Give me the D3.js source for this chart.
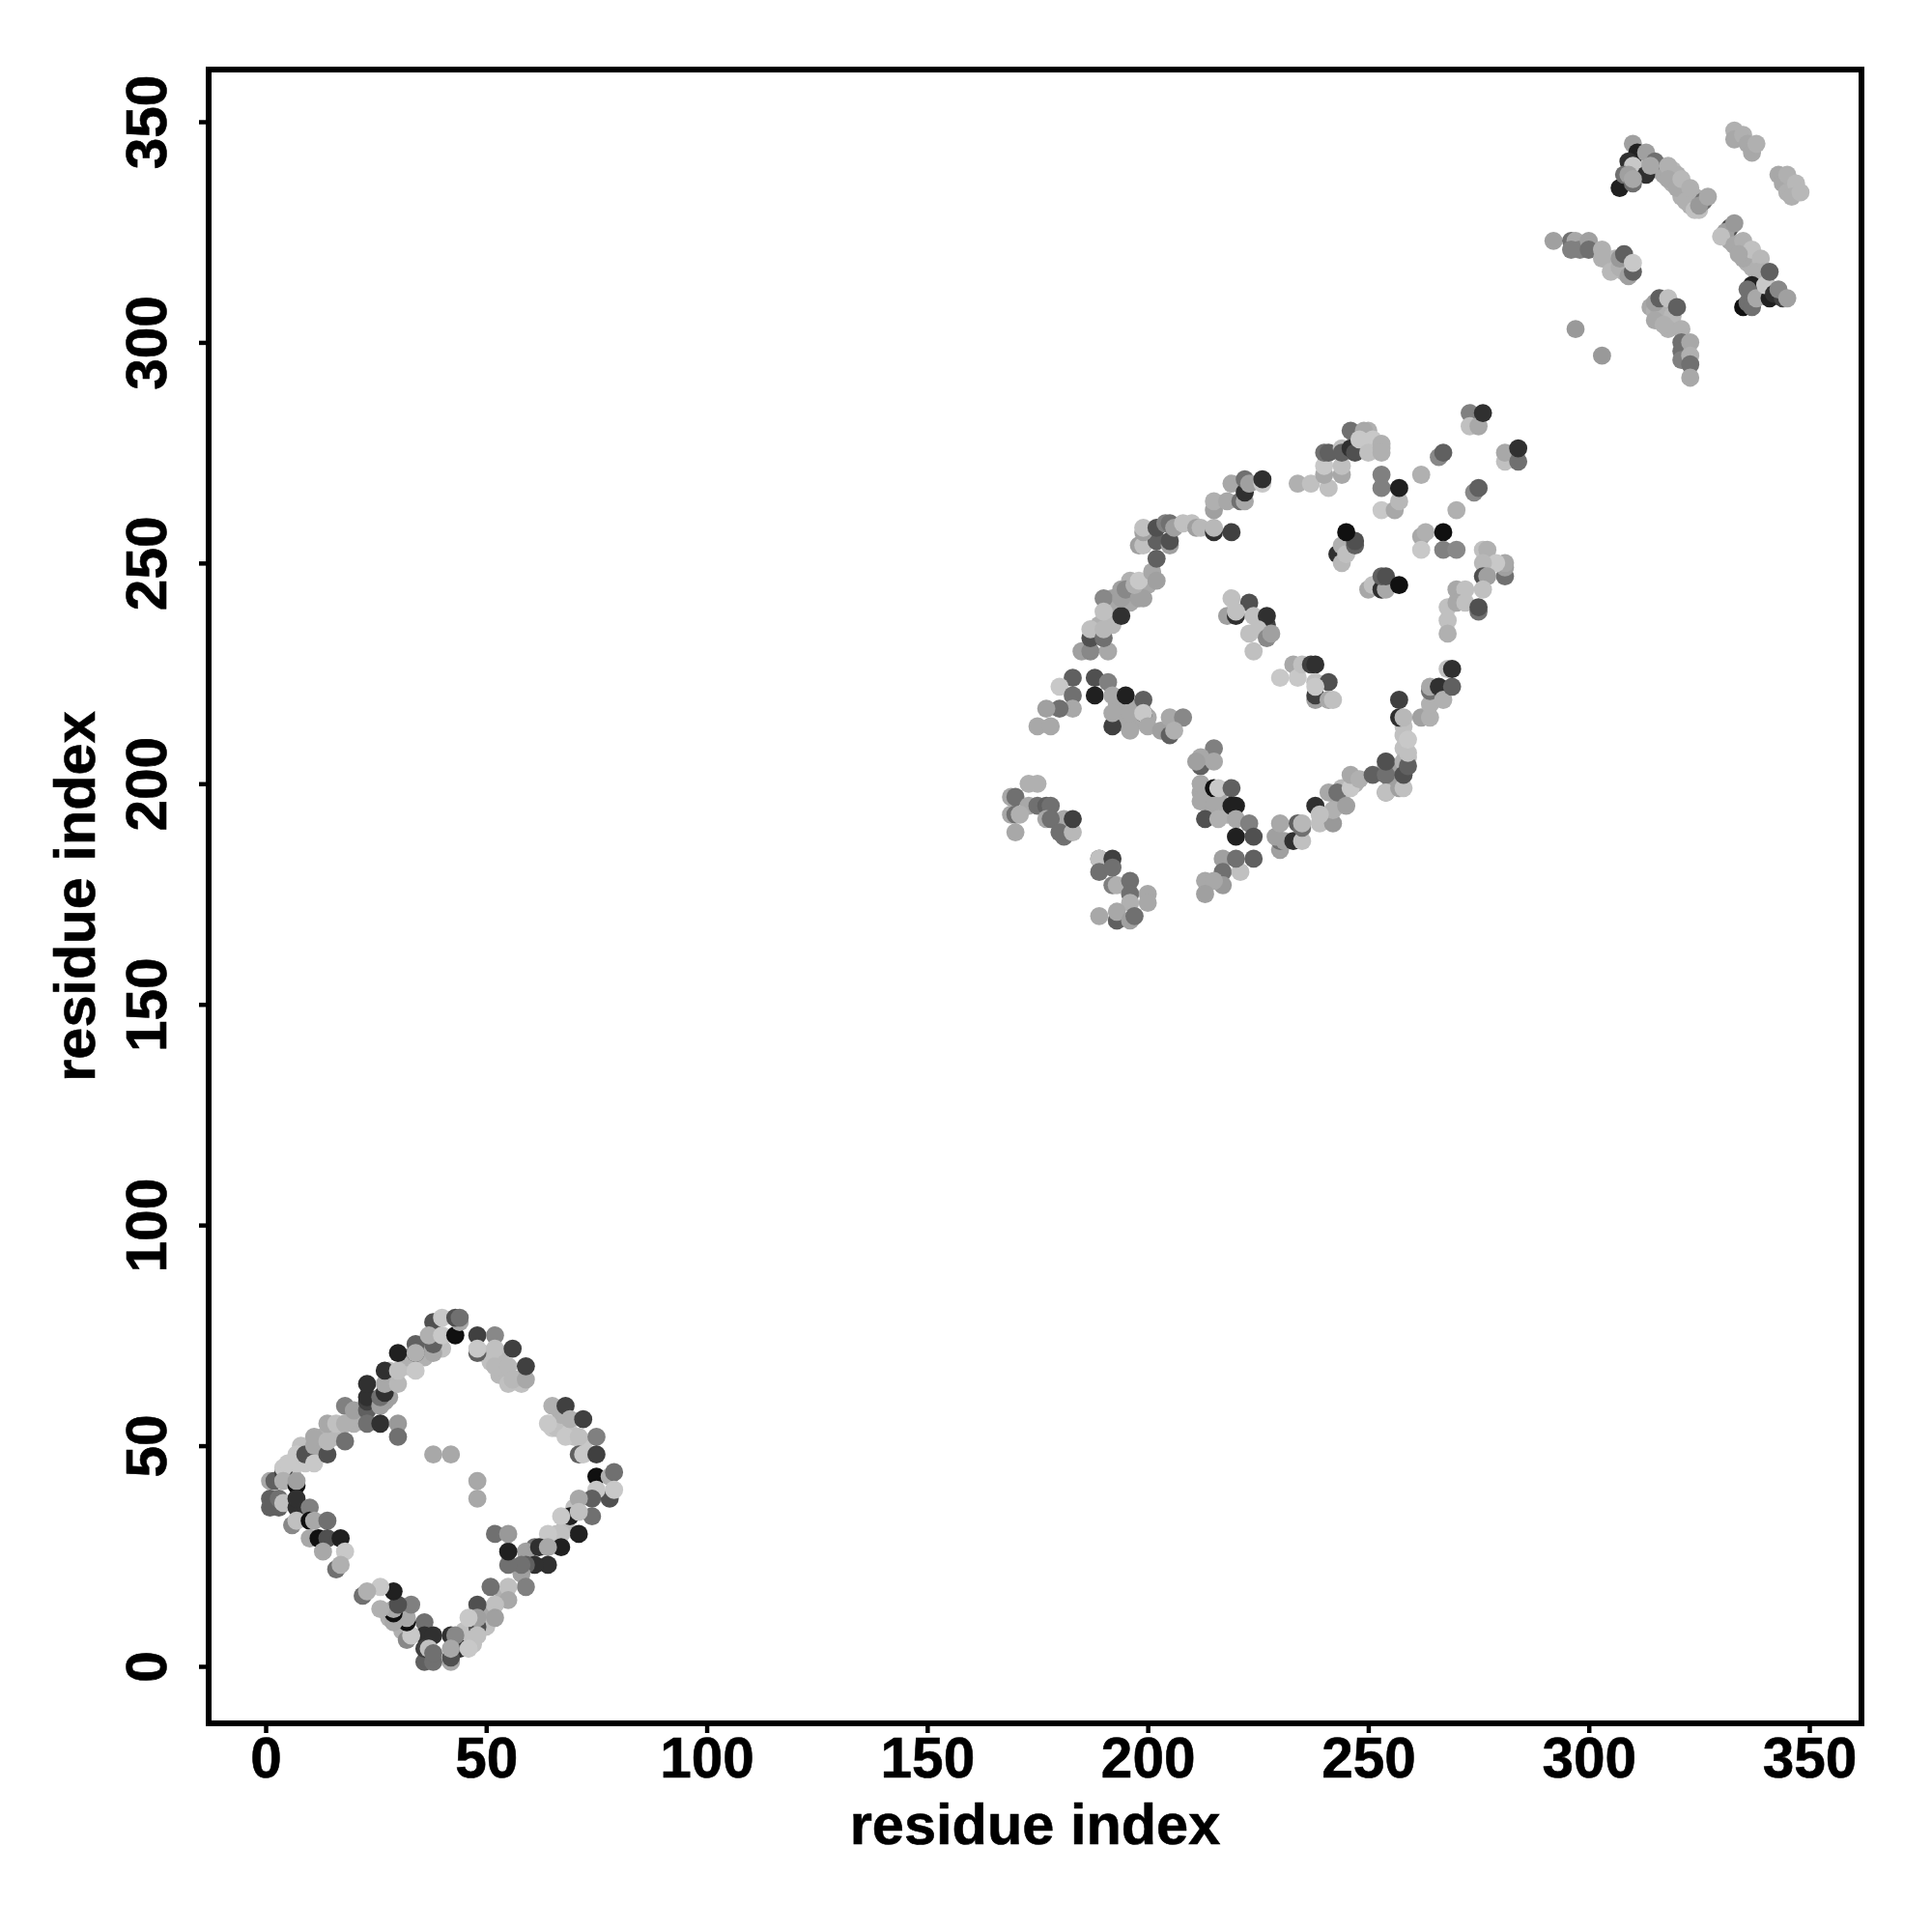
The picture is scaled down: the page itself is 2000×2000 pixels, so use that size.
<!DOCTYPE html>
<html><head><meta charset="utf-8">
<script src="https://cdn.jsdelivr.net/npm/d3@7"></script>
<style>html,body{margin:0;background:#fff}svg{display:block}</style>
</head><body><svg id="c" width="2000" height="2000"></svg>
<script>
const axisTicks = [0,50,100,150,200,250,300,350];
const xTitle = "residue index";
const yTitle = "residue index";
// [residue i, residue j, grey level]
const underlyingContacts = [
[66,55,176],[65,54,200],[66,54,192],[67,57,176],[69,53,200],[70,52,192],[72,50,200],[27,60,160],[28,61,160],[29,65,184],[28,67,192],[32,68,192],[32,70,176],[36,72,176],[36,70,176],[36,73,168],[40,72,192],[53,70,184],[54,67,192],[53,66,184],[55,66,184],[57,65,184],[58,64,192],[49,71,192],[51,69,192],[70,36,192],[68,32,184],[66,30,192],[47,8,192],[46,6,192],[47,5,192],[44,6,192],[45,8,192],[50,12,168],[50,9,192],[47,11,200],[54,16,176],[28,11,176],[31,12,176],[31,8,176],[8,50,192],[9,46,200],[6,44,192],[12,48,176],[13,52,176],[16,52,184],[20,55,176],
[195,215,168],[197,214,168],[194,214,168],[198,215,168],[200,215,168],[193,218,168],[197,217,168],[212,198,168],[214,197,168],[214,193,168],[217,195,168],[218,193,176],[216,197,168],[254,204,160],[256,200,168],[255,199,160],[257,201,160],[256,203,160],[244,196,176],[243,195,168],[241,193,176],[247,200,176],[244,199,184],[240,192,168],[258,208,192],[258,213,192],[259,206,192],
[192,242,160],[193,240,168],[195,242,168],[196,243,168],[197,243,176],[196,241,168],[198,244,176],[200,245,168],[194,244,160],[196,246,176],[188,234,160],[189,236,176],[192,236,184],
[316,340,176],[317,338,168],[319,336,176],[319,339,184],[320,338,176],[322,335,176],[321,333,176],[324,333,176],[323,331,176],[325,330,192],[304,319,176],[305,318,184],[306,317,176],[308,316,176],[306,319,184],[309,317,184],[314,308,168],[315,307,176],[316,307,168],[316,305,176],[317,307,176],[318,306,176],[319,304,176],[319,306,184],[318,303,176],[332,323,168],[334,321,176],[336,320,176],[336,318,176],[338,319,176],[337,317,176],[339,316,184],[340,314,176],[339,312,176],[312,339,176],[316,339,168]
];
const diamondContacts = [
[1,42,168],[2,42,96],[4,44,64],[4,45,200],[4,42,176],[7,41,16],[7,42,160],[5,46,200],[7,46,200],[7,48,200],[9,48,80],[11,46,200],[11,50,168],[11,52,168],[14,48,80],[14,51,184],[14,55,168],[16,55,192],[18,59,128],[18,55,176],[18,51,112],[20,58,160],
[23,58,96],[23,55,112],[23,60,64],[23,61,48],[23,64,48],[26,59,160],[26,55,48],[26,61,112],[27,62,48],[27,64,168],[27,67,48],[30,55,153],[30,52,112],[30,64,184],[30,67,192],[30,71,32],[34,71,48],[34,67,200],[34,73,96],[34,71,176],[38,71,168],[38,73,96],[38,78,80],[37,75,176],[40,79,200],[40,75,200],[43,75,16],[44,78,168],[43,79,80],[44,79,112],
[48,71,96],[48,75,64],[48,72,200],[52,75,136],[52,68,184],[52,72,192],[55,68,184],[56,72,64],[55,64,192],[56,65,184],[59,65,168],[59,68,64],
[64,55,200],[65,59,176],[68,59,64],[69,56,176],[72,56,64],[68,52,200],[71,52,192],[75,52,128],[71,48,96],[72,48,200],[75,48,64],[75,43,16],[78,43,176],[79,44,112],[78,38,80],[75,40,200],[79,40,200],[74,38,96],[71,38,168],[74,34,112],[69,34,32],[67,34,200],[71,35,192],[71,30,32],[67,30,192],[64,30,200],[67,27,32],[61,27,112],[59,26,160],[62,27,48],[64,27,168],[64,23,48],[61,23,48],[59,23,96],[58,21,160],[58,23,112],[55,23,112],[55,26,32],[52,30,112],[55,30,153],
[59,18,128],[55,18,192],[51,18,112],[55,15,168],[52,14,192],[48,14,80],[48,9,80],[48,11,160],[52,11,160],[46,11,200],[48,7,192],[44,4,48],[46,4,200],[42,7,48],[43,7,136],[42,1,168],[42,2,80],[42,4,168],
[36,10,112],[36,7,48],[38,7,48],[36,1,96],[36,4,64],[38,1,112],[37,4,192],[38,3,112],[32,6,136],[33,7,200],[32,10,16],[32,11,168],[33,14,128],
[29,10,168],[29,12,16],[29,13,168],[30,14,80],[29,17,32],[26,13,176],[26,18,200],[22,16,112],[23,17,176],
[1,38,96],[1,36,96],[3,36,96],[3,38,112],[4,37,192],[7,36,48],[7,38,48],[10,36,128],[6,32,136],[7,33,192],[10,33,16],[11,33,168],[14,33,112],[10,29,168],[12,29,16],[14,29,80],[13,26,168],[17,29,32],[18,26,200],[16,22,112],[17,23,176],
[38,48,168],[42,48,168],[48,42,168],[48,38,168]
];
const middleContacts = [
[183,224,96],[180,222,200],[183,220,112],[183,217,168],[180,217,112],[177,217,160],[175,213,168],[178,213,168],
[188,224,80],[191,223,128],[188,220,32],[192,220,168],[195,220,32],[199,216,16],[199,219,96],[192,213,64],[192,216,168],[196,216,168],[199,216,200],[196,212,168],[200,213,168],[203,212,160],[205,211,96],[205,215,168],[208,215,136],[206,212,176],
[215,208,128],[212,204,96],[212,206,168],[215,205,168],[211,205,160],[212,200,168],[215,199,16],[216,199,200],[219,199,96],[212,196,168],[215,195,168],[219,195,32],[220,195,32],[213,192,80],[216,192,176],[220,192,168],[223,191,128],[220,188,32],[224,188,80],
[217,183,160],[217,180,112],[217,177,153],[213,178,168],[215,178,168],[213,175,160],[221,180,192],[220,183,112],[224,183,96],
[189,183,112],[189,183,192],[189,180,112],[192,183,64],[192,181,112],[192,177,128],[193,177,176],[196,178,112],[196,175,112],[200,175,168],[200,173,168],[196,173,176],[189,170,168],[193,169,168],[193,169,96],[193,171,168],[196,169,160],[197,170,112],
[173,200,176],[175,200,176],[169,197,168],[170,197,112],[173,195,168],[175,195,112],[177,195,96],[178,195,112],[169,193,168],[170,193,112],[171,193,176],[177,192,168],[181,192,168],[178,192,112],[181,188,112],[180,189,112],[183,189,184],[183,192,64],[170,189,168],
[230,185,160],[230,187,112],[229,188,160],[231,187,160],[233,187,48],[235,187,192],[230,191,168],[234,191,96],[235,190,112],[235,191,184],[239,191,192],[238,195,48],[242,191,153],[241,198,168],[242,194,176],[239,193,192],[243,198,112],[245,195,160],[246,199,200],[246,202,168],[248,201,176],
[251,202,96],[254,205,153],[254,202,112],[254,198,136],[254,198,192],[254,205,80],[258,205,176],[257,199,160],[258,199,192],[258,202,80],[259,204,96],[259,207,192],[258,211,192],[259,210,200],[257,215,48],[258,215,184],[257,219,64],
[262,215,160],[264,215,176],[264,218,176],[264,221,112],[264,222,168],[266,222,48],[267,219,176],[269,222,96],[268,226,192],[269,226,48],
[230,224,200],[233,227,168],[234,224,200],[235,227,192],[238,219,160],[237,227,64],[238,227,48],[238,223,192],[241,223,80],[238,220,64],[238,222,200],[241,219,168],[242,219,192]
];
const upperArcContacts = [
[185,230,160],[187,230,136],[187,233,80],[191,230,168],[187,235,192],[190,233,112],[190,235,184],[190,242,136],[190,239,192],[194,238,48],[194,242,160],[195,244,136],[198,242,160],[199,242,160],[197,245,176],[198,246,200],[201,248,168],[202,246,160],[202,251,96],
[198,254,160],[199,254,192],[202,255,96],[205,254,160],[205,255,80],[199,257,160],[199,258,192],[202,258,80],[204,259,128],[205,259,112],[206,258,160],[208,259,192],[210,259,192],[211,258,160],[212,258,184],[215,257,48],[215,258,184],[219,257,64],
[215,262,160],[215,264,176],[218,264,168],[221,264,112],[222,264,168],[219,268,168],[222,266,48],[222,269,112],[223,268,160],[226,268,200],[226,269,48],
[218,238,160],[219,242,192],[223,241,80],[220,238,48],[220,239,192],[224,238,192],[227,236,64],[227,238,48],[223,234,192],[225,235,192],[227,233,136],[228,234,160],[224,230,192],
[234,268,176],[237,268,192],[241,267,192],[240,270,168],[244,270,168],[240,272,200],[244,272,192],[240,275,112],[241,275,96],[244,276,192],[244,275,96],[246,280,112],[246,276,48],[247,275,80],[250,280,176],[249,280,168],[248,278,200],[251,278,200],[250,275,192],[253,276,176],[253,277,176],[253,275,176],
[253,270,128],[253,267,128],[253,262,200],[256,262,168],[257,264,184],[257,267,32],[262,270,176],[266,274,136],[267,275,96],
[273,284,128],[273,281,192],[275,281,168],[276,284,48],[281,273,192],[281,275,168],[284,273,112],[284,276,48],
[270,262,176],[274,266,136],[275,267,96],[262,256,168],[263,257,176],[262,253,200],[267,257,16],[267,253,128],[270,253,136],
[243,252,48],[244,254,176],[244,250,184],[245,252,192],[247,254,96],[247,255,80],[245,257,16],
[250,244,168],[251,245,192],[253,244,48],[254,244,168],[253,247,96],[254,247,80],[257,245,16],
[276,253,192],[277,253,176],[281,247,112],[281,249,160],[281,250,168],[279,250,200],[276,250,184],[276,247,80],[277,247,160],[276,244,192],[270,244,168],[272,244,192],[268,240,192],[270,241,168],[272,241,192],[275,239,112],[275,240,80],[268,237,192],[268,234,176]
];
const cornerContacts = [
[297,303,153],[303,297,153],
[292,323,160],[296,323,112],[297,323,168],[296,321,128],[298,321,128],[300,323,160],[300,321,112],[303,321,176],[303,319,176],[305,316,184],[307,317,176],[307,319,153],[308,320,96],[309,315,160],[310,316,96],[310,318,200],
[315,309,160],[316,310,96],[318,310,192],[315,305,168],[317,304,176],[321,303,176],[320,308,96],[321,300,112],[321,298,112],[321,296,128],[323,300,168],[323,297,176],[323,295,112],[323,292,168],
[310,345,160],[311,343,32],[309,341,48],[310,340,200],[313,343,160],[315,341,112],[313,338,48],[314,340,168],[307,335,32],[308,338,112],[309,338,160],[310,336,112],[310,337,168],
[318,340,176],[318,337,168],[320,335,168],[321,337,184],[322,332,176],[323,335,176],[324,330,192],[326,332,112],[325,331,153],[327,333,168],
[333,348,176],[333,346,168],[335,347,176],[336,345,168],[337,343,168],[338,345,176],
[343,338,168],[344,336,168],[345,338,176],[345,334,176],[347,336,184],[346,333,176],[348,334,184],
[332,326,80],[331,325,160],[333,327,153],[330,324,192],[333,322,168],[335,323,176],[335,319,168],[337,321,192],[334,320,168],[339,319,184],[338,316,176],[340,316,176],[337,313,32],[335,308,16],[336,312,112],[336,309,112],[337,308,112],[338,310,168],[341,310,32],[340,313,200],[341,316,96],[342,311,48],[344,310,64],[343,312,136],[345,310,160]
];

const svg = d3.select("#c");
const x = d3.scaleLinear().domain([0,350]).range([275,1873]);
const y = d3.scaleLinear().domain([0,350]).range([1725,126]);
const frame = {l:216,r:1927,t:72,b:1784};
const font = "'Liberation Sans', Arial, sans-serif";

const points = [...underlyingContacts, ...diamondContacts, ...middleContacts, ...upperArcContacts, ...cornerContacts];
svg.append("g").selectAll("circle").data(points).join("circle")
  .attr("cx",d=>x(d[0])).attr("cy",d=>y(d[1])).attr("r",9.4)
  .attr("fill",d=>d3.rgb(d[2],d[2],d[2]));

svg.append("rect").attr("x",frame.l).attr("y",frame.t)
  .attr("width",frame.r-frame.l).attr("height",frame.b-frame.t)
  .attr("fill","none").attr("stroke","#000").attr("stroke-width",6);

const gx = svg.append("g").attr("transform",`translate(0,${frame.b})`)
  .call(d3.axisBottom(x).tickValues(axisTicks).tickSize(10).tickPadding(0).tickFormat(d3.format("d")));
const gy = svg.append("g").attr("transform",`translate(${frame.l},0)`)
  .call(d3.axisLeft(y).tickValues(axisTicks).tickSize(10).tickPadding(0).tickFormat(d3.format("d")));
[gx,gy].forEach(g=>{
  g.select(".domain").remove();
  g.selectAll("line").attr("stroke","#000").attr("stroke-width",4.5);
  g.selectAll("text").attr("fill","#000").attr("stroke","#000").attr("stroke-width",0.6)
   .style("font-family",font).style("font-weight","bold").style("font-size","58.5px");
});
gx.selectAll("text").attr("dy",null).attr("y",56).attr("text-anchor","middle");
gy.selectAll("text").attr("dy",null).attr("x",null)
  .attr("transform",`translate(-44,0) rotate(-90)`)
  .attr("text-anchor","middle");

svg.append("text").text(xTitle).attr("x",(frame.l+frame.r)/2).attr("y",1909).attr("stroke","#000").attr("stroke-width",0.6)
  .attr("text-anchor","middle").style("font-family",font).style("font-weight","bold").style("font-size","59.5px");
svg.append("text").text(yTitle).attr("transform",`translate(98,${(frame.t+frame.b)/2}) rotate(-90)`).attr("stroke","#000").attr("stroke-width",0.6)
  .attr("text-anchor","middle").style("font-family",font).style("font-weight","bold").style("font-size","59.5px");
</script></body></html>
